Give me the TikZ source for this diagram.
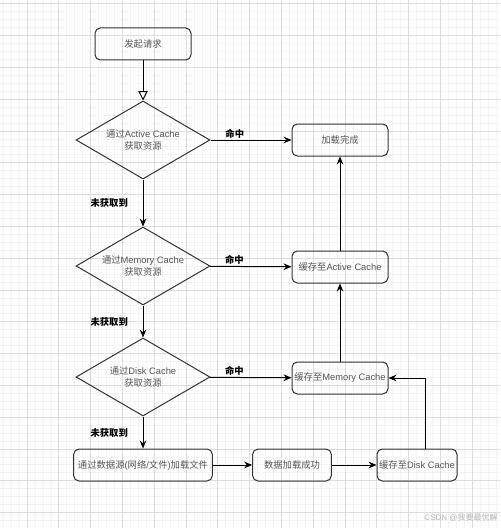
\documentclass[tikz,border=0pt]{standalone}
\usepackage{fontspec}
\setmainfont{Liberation Sans}
\newfontfamily\cjk{Noto Sans CJK SC}
\usepackage{xcolor}
\usetikzlibrary{shapes.geometric, arrows.meta}

\definecolor{linegray}{HTML}{333333}
\definecolor{textgray}{HTML}{555555}
\definecolor{minorgrid}{HTML}{F3F3F3}
\definecolor{majorgrid}{HTML}{DDDDDD}

\tikzset{
	stepbox/.style = {draw=linegray, line width=0.75pt, rounded corners=4pt,
		minimum width=72pt, minimum height=24pt, inner sep=1pt,
		text=textgray, font=\fontsize{7}{9}\selectfont, align=center},
	decision/.style = {draw=linegray, line width=0.75pt, diamond, aspect=1.72,
		minimum width=100.5pt, minimum height=58.5pt, inner sep=0pt,
		text=textgray, font=\fontsize{7}{9}\selectfont, align=center},
	flow/.style = {draw=black, line width=0.75pt, -{Stealth[length=6pt, width=5pt, inset=2pt]}},
	edgelabel/.style = {font=\fontsize{7}{9}\selectfont\cjk\bfseries, text=black, inner sep=1pt}
}

\begin{document}
\begin{tikzpicture}[x=0.75pt, y=-0.75pt]
	\useasboundingbox (0,0) rectangle (500,528);
	\fill[white] (0,0) rectangle (500,528);
	% grid
	\foreach \k in {0,...,62}
		\draw[minorgrid, line width=0.5pt] ({3.15+7.95*\k},0) -- ({3.15+7.95*\k},528);
	\foreach \k in {0,...,65}
		\draw[minorgrid, line width=0.5pt] (0,{3.7+7.95*\k}) -- (500,{3.7+7.95*\k});
	\foreach \k in {0,...,14}
		\draw[majorgrid, line width=0.5pt] ({27+31.8*\k},0) -- ({27+31.8*\k},528);
	\foreach \k in {0,...,16}
		\draw[majorgrid, line width=0.5pt] (0,{3.7+31.8*\k}) -- (500,{3.7+31.8*\k});

	% nodes
	\node[stepbox] (start) at (143,44) {\cjk 发起请求};
	\node[decision] (active) at (143,140) {{\cjk 通过}Active Cache\\{\cjk 获取资源}};
	\node[decision] (memory) at (143,266) {{\cjk 通过}Memory Cache\\{\cjk 获取资源}};
	\node[decision] (disk) at (143,377) {{\cjk 通过}Disk Cache\\{\cjk 获取资源}};
	\node[stepbox, minimum width=104pt] (load) at (143,465) {{\cjk 通过数据源}({\cjk 网络}/{\cjk 文件}){\cjk 加载文件}};
	\node[stepbox, minimum width=59pt] (loaded) at (292,465) {\cjk 数据加载成功};
	\node[stepbox, minimum width=60pt] (todisk) at (417,465) {{\cjk 缓存至}Disk Cache};
	\node[stepbox] (tomemory) at (340,378) {{\cjk 缓存至}Memory Cache};
	\node[stepbox] (toactive) at (340,267) {{\cjk 缓存至}Active Cache};
	\node[stepbox] (done) at (340,140) {\cjk 加载完成};

	% connectors
	\draw[draw=black, line width=0.75pt, -{Triangle[open, length=7pt, width=7pt]}] (start) -- (active);
	\draw[flow] (active) -- node[edgelabel, pos=0.3, above] {命中} (done);
	\draw[flow] (memory) -- node[edgelabel, pos=0.3, above] {命中} (toactive);
	\draw[flow] (disk) -- node[edgelabel, pos=0.3, above] {命中} (tomemory);
	\draw[flow] (active) -- node[edgelabel, left=10pt] {未获取到} (memory);
	\draw[flow] (memory) -- node[edgelabel, left=10pt] {未获取到} (disk);
	\draw[flow] (disk) -- node[edgelabel, left=10pt] {未获取到} (load);
	\draw[flow] (load) -- (loaded);
	\draw[flow] (loaded) -- (todisk);
	\draw[flow] ([xshift=6pt]todisk.north) |- (tomemory.east);
	\draw[flow] (tomemory) -- (toactive);
	\draw[flow] (toactive) -- (done);

	% watermark
	\node[text=black!30, font=\fontsize{6}{7}\selectfont] (mark) at (461,518) {CSDN @{\cjk 我要最优解}};
\end{tikzpicture}
\end{document}
